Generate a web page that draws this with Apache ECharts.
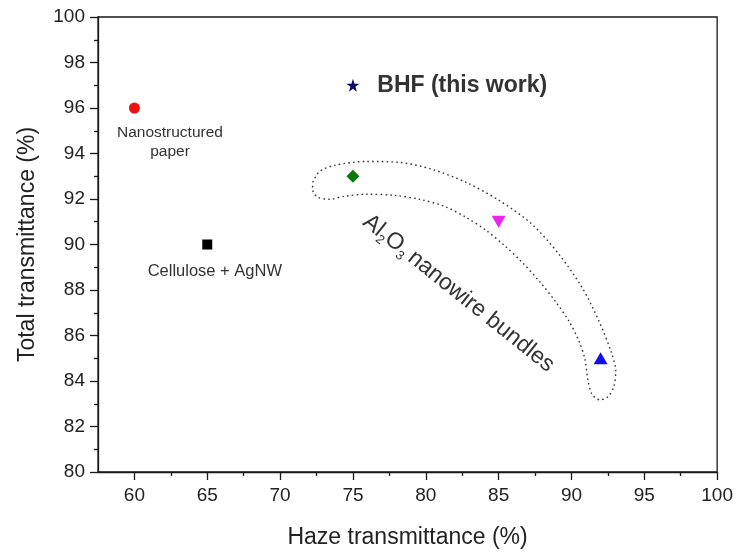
<!DOCTYPE html>
<html>
<head>
<meta charset="utf-8">
<title>Total vs haze transmittance</title>
<script src="https://cdn.jsdelivr.net/npm/echarts@6/dist/echarts.min.js"></script>
<style>
  html, body { margin: 0; padding: 0; background: #fff; }
  #chart { width: 736px; height: 554px; }
</style>
</head>
<body>
<div id="chart"></div>
<script>
// Measured samples: haze transmittance (%) vs total transmittance (%)
const nanopaper   = [[60, 96]];
const cellulose   = [[65, 90]];
const bhf         = [[75, 97]];
const nwDiamond   = [[75, 93]];
const nwDown      = [[85, 91]];
const nwUp        = [[92, 85]];

// Axis tick values
const xMajorTicks = [60, 65, 70, 75, 80, 85, 90, 95, 100];
const xMinorTicks = [62.5, 67.5, 72.5, 77.5, 82.5, 87.5, 92.5, 97.5];

// Dotted envelope around the Al2O3 nanowire bundle samples (data units)
const bundleOutline = [
  [72.23, 92.73], [72.71, 93.21], [73.74, 93.48], [75.93, 93.65], [78.19, 93.61],
  [80.45, 93.30], [82.77, 92.73], [85.03, 91.94], [87.29, 90.89], [89.14, 89.57],
  [90.71, 88.13], [91.88, 86.64], [92.70, 85.32], [93.04, 84.44], [92.90, 83.74],
  [92.49, 83.30], [91.94, 83.17], [91.40, 83.43], [91.12, 84.09], [90.92, 84.97],
  [90.51, 85.76], [89.82, 86.64], [88.93, 87.47], [87.84, 88.35], [86.61, 89.22],
  [85.37, 89.97], [84.14, 90.62], [82.77, 91.19], [81.27, 91.68], [79.56, 91.99],
  [77.85, 92.16], [75.93, 92.21], [74.42, 92.12], [73.39, 91.99], [72.57, 92.08],
  [72.23, 92.43], [72.23, 92.73]
];

// Annotation anchors (data units)
const noteNanopaper = [[62.44, 94.49]];
const noteCellulose = [[65.52, 88.83]];
const noteBhf       = [[76.67, 97.0]];
const noteBundles   = [[82.25, 87.85]];

const FONT = 'Arial, "Liberation Sans", Helvetica, sans-serif';
const TEXT = '#333333';
const AXIS = '#1a1a1a';

const STAR = 'path://M50,0 L61.2,34.5 L97.6,34.5 L68.2,55.9 L79.4,90.5 L50,69.1 L20.6,90.5 L31.8,55.9 L2.4,34.5 L38.8,34.5 Z';

function note(data, label) {
  return {
    type: 'scatter',
    data: data,
    symbolSize: 0,
    silent: true,
    z: 5,
    itemStyle: { opacity: 1 },
    label: Object.assign({ show: true, position: 'inside', fontFamily: FONT, color: TEXT }, label)
  };
}

function marker(data, symbol, size, color, extra) {
  return Object.assign({
    type: 'scatter', data: data, symbol: symbol, symbolSize: size, z: 3,
    itemStyle: { color: color, opacity: 1 }
  }, extra || {});
}

const chart = echarts.init(document.getElementById('chart'), null, { renderer: 'canvas' });

chart.setOption({
  animation: false,
  backgroundColor: '#ffffff',
  grid: {
    left: 98, right: 17, top: 17, bottom: 81,
    show: true, borderColor: AXIS, borderWidth: 1.3, backgroundColor: 'transparent'
  },
  xAxis: [
    {
      type: 'value', min: 57.5, max: 100,
      name: 'Haze transmittance (%)', nameLocation: 'middle', nameGap: 54,
      nameTextStyle: { fontFamily: FONT, fontSize: 23, color: '#222' },
      axisLine: { show: true, onZero: false, lineStyle: { color: AXIS, width: 1.3 } },
      axisTick: { show: true, length: 8, customValues: xMajorTicks, lineStyle: { color: AXIS, width: 1.3 } },
      axisLabel: { show: true, margin: 14, customValues: xMajorTicks, fontFamily: FONT, fontSize: 19, color: '#222' },
      splitLine: { show: false }
    },
    {
      type: 'value', min: 57.5, max: 100, position: 'bottom',
      axisLine: { show: false, onZero: false },
      axisTick: { show: true, length: 4, customValues: xMinorTicks, lineStyle: { color: AXIS, width: 1.3 } },
      axisLabel: { show: false },
      splitLine: { show: false }
    }
  ],
  yAxis: {
    type: 'value', min: 80, max: 100, interval: 2,
    name: 'Total transmittance (%)', nameLocation: 'middle', nameGap: 59,
    nameTextStyle: { fontFamily: FONT, fontSize: 23, color: '#222' },
    axisLine: { show: true, onZero: false, lineStyle: { color: AXIS, width: 1.3 } },
    axisTick: { show: true, length: 8, lineStyle: { color: AXIS, width: 1.3 } },
    minorTick: { show: true, splitNumber: 2, length: 4, lineStyle: { color: AXIS, width: 1.3 } },
    axisLabel: { margin: 13, fontFamily: FONT, fontSize: 19, color: '#222' },
    splitLine: { show: false },
    minorSplitLine: { show: false }
  },
  series: [
    {
      type: 'line', data: bundleOutline, smooth: 0.3, showSymbol: false, symbol: 'none',
      silent: true, z: 1,
      lineStyle: { color: '#333', width: 1.4, type: [1.6, 3.2] }
    },
    marker(nanopaper, 'circle', 11, '#ee1111'),
    marker(cellulose, 'rect', 10, '#000000'),
    marker(bhf, STAR, 13, '#0a0a62'),
    marker(nwDiamond, 'diamond', [13, 13], '#0a780a'),
    marker(nwDown, 'triangle', [14, 12], '#ee22ee', { symbolRotate: 180 }),
    marker(nwUp, 'triangle', [14, 12], '#1010ee'),
    note(noteNanopaper, {
      formatter: 'Nanostructured\npaper', fontSize: 15.5, lineHeight: 19, align: 'center'
    }),
    note(noteCellulose, {
      formatter: 'Cellulose + AgNW', fontSize: 16.5, align: 'center'
    }),
    note(noteBhf, {
      formatter: 'BHF (this work)', fontSize: 23, fontWeight: 'bold', align: 'left', color: '#333'
    }),
    note(noteBundles, {
      formatter: '{n|Al}{s|2}{n|O}{s|3}{n|\u2009nanowire bundles}',
      rotate: -38.7, align: 'center', verticalAlign: 'middle',
      rich: {
        n: { fontFamily: FONT, fontSize: 23, color: TEXT, lineHeight: 28 },
        s: { fontFamily: FONT, fontSize: 13, color: TEXT, lineHeight: 28, verticalAlign: 'bottom', padding: [10, 0, 0, 0] }
      }
    })
  ]
});
</script>
</body>
</html>
